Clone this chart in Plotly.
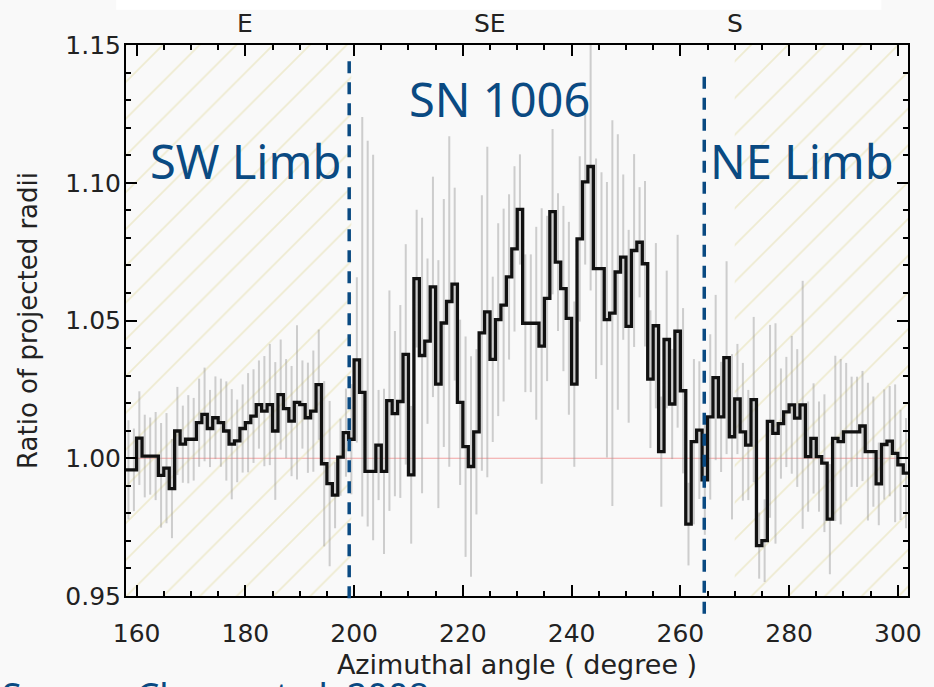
import numpy as np
import plotly.graph_objects as go

# ---- data (1-degree azimuthal bins, left bin edges) ----
bin_left = list(range(158, 302))
ratio = [
    0.9958, 0.9958, 1.0073, 1.0008, 1.0008, 1.0008, 0.9938, 0.9964, 0.9890, 1.0099,
    1.0051, 1.0069, 1.0069, 1.0129, 1.0159, 1.0108, 1.0147, 1.0129, 1.0099, 1.0051,
    1.0063, 1.0108, 1.0129, 1.0153, 1.0195, 1.0171, 1.0195, 1.0099, 1.0231, 1.0180,
    1.0135, 1.0203, 1.0195, 1.0147, 1.0171, 1.0267, 0.9980, 0.9908, 0.9866, 1.0004,
    1.0093, 1.0069, 1.0357, 1.0239, 0.9952, 0.9952, 1.0048, 0.9952, 1.0209, 1.0162,
    1.0206, 1.0377, 0.9940, 1.0652, 1.0373, 1.0425, 1.0622, 1.0269, 1.0491, 1.0569,
    1.0632, 1.0203, 1.0042, 0.9970, 1.0096, 1.0455, 1.0531, 1.0359, 1.0503, 1.0556,
    1.0658, 1.0760, 1.0903, 1.0490, 1.0490, 1.0490, 1.0407, 1.0580, 1.0895, 1.0712,
    1.0616, 1.0508, 1.0269, 1.0796, 1.1003, 1.1059, 1.0688, 1.0688, 1.0503, 1.0527,
    1.0676, 1.0730, 1.0479, 1.0754, 1.0784, 1.0706, 1.0287, 1.0481, 1.0024, 1.0431,
    1.0197, 1.0461, 1.0245, 0.9761, 1.0060, 1.0102, 0.9922, 1.0150, 1.0293, 1.0150,
    1.0365, 1.0078, 1.0215, 1.0096, 1.0048, 1.0213, 0.9683, 0.9701, 1.0134, 1.0090,
    1.0126, 1.0168, 1.0194, 1.0146, 1.0194, 1.0006, 1.0072, 1.0006, 0.9982, 0.9779,
    1.0072, 1.0060, 1.0096, 1.0096, 1.0096, 1.0117, 1.0024, 1.0024, 0.9907, 1.0050,
    1.0062, 1.0018, 0.9976, 0.9946,
]
err_plus = [
    0.018, 0.015, 0.017, 0.015, 0.014, 0.016, 0.019, 0.020, 0.018, 0.016,
    0.014, 0.016, 0.015, 0.016, 0.017, 0.014, 0.015, 0.016, 0.018, 0.020,
    0.015, 0.016, 0.018, 0.017, 0.016, 0.020, 0.022, 0.025, 0.020, 0.018,
    0.020, 0.028, 0.016, 0.020, 0.022, 0.020, 0.030, 0.030, 0.012, 0.014,
    0.016, 0.020, 0.030, 0.100, 0.120, 0.115, 0.020, 0.030, 0.040, 0.030,
    0.035, 0.040, 0.025, 0.025, 0.050, 0.030, 0.040, 0.045, 0.045, 0.060,
    0.035, 0.030, 0.040, 0.040, 0.030, 0.050, 0.060, 0.030, 0.035, 0.035,
    0.030, 0.030, 0.020, 0.025, 0.025, 0.035, 0.050, 0.030, 0.030, 0.025,
    0.030, 0.035, 0.030, 0.030, 0.030, 0.045, 0.040, 0.035, 0.050, 0.070,
    0.050, 0.030, 0.035, 0.035, 0.020, 0.030, 0.025, 0.030, 0.020, 0.025,
    0.020, 0.035, 0.030, 0.015, 0.030, 0.025, 0.020, 0.030, 0.030, 0.020,
    0.035, 0.030, 0.020, 0.025, 0.020, 0.030, 0.012, 0.015, 0.035, 0.040,
    0.020, 0.020, 0.025, 0.025, 0.045, 0.020, 0.020, 0.020, 0.025, 0.020,
    0.030, 0.030, 0.025, 0.020, 0.020, 0.020, 0.025, 0.020, 0.015, 0.020,
    0.020, 0.025, 0.020, 0.020,
]
err_minus = list(err_plus)
err_minus[43] = 0.045
err_minus[44] = 0.020
err_minus[45] = 0.025

x_range = [158.05, 301.87]
y_range = [0.95, 1.15]
sw_limb_region = [158.05, 199.5]
ne_limb_region = [270.0, 301.87]
limb_boundaries = [199.1, 264.4]
direction_labels = ["E", "SE", "S"]
direction_pos = [180, 225, 270]
x_ticks = [160, 180, 200, 220, 240, 260, 280, 300]
y_ticks = [0.95, 1.00, 1.05, 1.10, 1.15]
y_ticktext = ["0.95", "1.00", "1.05", "1.10", "1.15"]

BLUE = "#0a4a82"
HATCH = "#e4dda8"

centers = np.array(bin_left) + 0.5
vals = np.array(ratio)
step_x = np.concatenate([[bin_left[0]], centers, [bin_left[-1] + 1]])
step_y = np.concatenate([[vals[0]], vals, [vals[-1]]])

fig = go.Figure()

# hatched limb regions
for reg in (sw_limb_region, ne_limb_region):
    fig.add_trace(go.Scatter(
        x=[reg[0], reg[1], reg[1], reg[0], reg[0]],
        y=[y_range[0], y_range[0], y_range[1], y_range[1], y_range[0]],
        mode="lines", fill="toself", line=dict(width=0),
        fillcolor="rgba(0,0,0,0)",
        fillpattern=dict(shape="/", fgcolor=HATCH, bgcolor="rgba(0,0,0,0)",
                         size=26, solidity=0.07),
        hoverinfo="skip", showlegend=False))

# error bars
fig.add_trace(go.Scatter(
    x=centers, y=vals, mode="markers",
    marker=dict(size=1, color="rgba(0,0,0,0)"),
    error_y=dict(type="data", symmetric=False, array=err_plus, arrayminus=err_minus,
                 visible=True, width=0, thickness=2, color="rgba(150,150,150,0.45)"),
    showlegend=False, hoverinfo="skip"))

# histogram step line
fig.add_trace(go.Scatter(
    x=step_x, y=step_y, mode="lines",
    line=dict(shape="hvh", color="#111111", width=3.3),
    showlegend=False))

# reference line at 1.0
fig.add_shape(type="line", xref="paper", yref="y", x0=0, x1=1, y0=1.0, y1=1.0,
              line=dict(color="#f2a3a3", width=1), layer="below")

# dashed limb boundaries
fig.add_shape(type="line", xref="x", yref="paper", x0=limb_boundaries[0], x1=limb_boundaries[0],
              y0=-0.004, y1=0.982, line=dict(color=BLUE, width=3.5, dash="12px,9px"))
fig.add_shape(type="line", xref="x", yref="paper", x0=limb_boundaries[1], x1=limb_boundaries[1],
              y0=-0.032, y1=0.952, line=dict(color=BLUE, width=3.5, dash="12px,9px"))

# white strip at top
fig.add_shape(type="rect", xref="paper", yref="paper", x0=-0.0126, x1=0.966, y0=1.064, y1=1.09,
              fillcolor="white", line=dict(width=0), layer="below")

lab_font = dict(family="Noto Sans", size=47, color=BLUE)
fig.add_annotation(x=226.8, y=0.902, xref="x", yref="paper", text="SN 1006",
                   showarrow=False, font=lab_font, xanchor="center", yanchor="middle")
fig.add_annotation(x=180.0, y=0.789, xref="x", yref="paper", text="SW Limb",
                   showarrow=False, font=lab_font, xanchor="center", yanchor="middle")
fig.add_annotation(x=282.4, y=0.789, xref="x", yref="paper", text="NE Limb",
                   showarrow=False, font=lab_font, xanchor="center", yanchor="middle")
for t, p in zip(direction_labels, direction_pos):
    fig.add_annotation(x=p, y=1.039, xref="x", yref="paper", text=t, showarrow=False,
                       font=dict(family="DejaVu Sans", size=25, color="#222"),
                       xanchor="center", yanchor="middle")
fig.add_annotation(x=0, y=-0.133, xref="paper", yref="paper", xshift=-126,
                   text="Source: Cheng et al. 2008", showarrow=False,
                   font=dict(family="Noto Sans", size=36, color=BLUE),
                   xanchor="left", yanchor="top")

axis_common = dict(showline=True, linecolor="black", linewidth=2, mirror="ticks",
                   ticks="inside", tickcolor="black", tickwidth=1.5, ticklen=11,
                   showgrid=False, zeroline=False,
                   tickfont=dict(family="DejaVu Sans", size=25, color="#222"))
fig.update_xaxes(range=x_range, tickvals=x_ticks, ticklabelstandoff=14,
                 minor=dict(dtick=5, ticks="inside", ticklen=5, tickcolor="black", tickwidth=1.5),
                 title=dict(text="Azimuthal angle ( degree )", standoff=8,
                            font=dict(family="DejaVu Sans", size=27, color="#222")),
                 **axis_common)
fig.update_yaxes(range=y_range, tickvals=y_ticks, ticktext=y_ticktext,
                 ticklabelstandoff=-2,
                 minor=dict(dtick=0.01, ticks="inside", ticklen=5, tickcolor="black", tickwidth=1.5),
                 title=dict(text="Ratio of projected radii", standoff=20,
                            font=dict(family="DejaVu Sans", size=26, color="#222")),
                 **axis_common)

fig.update_layout(width=934, height=687, margin=dict(l=126, r=17, t=45, b=84),
                  paper_bgcolor="#f9f9f9", plot_bgcolor="#f9f9f9", showlegend=False)

fig.write_html("out.html")
